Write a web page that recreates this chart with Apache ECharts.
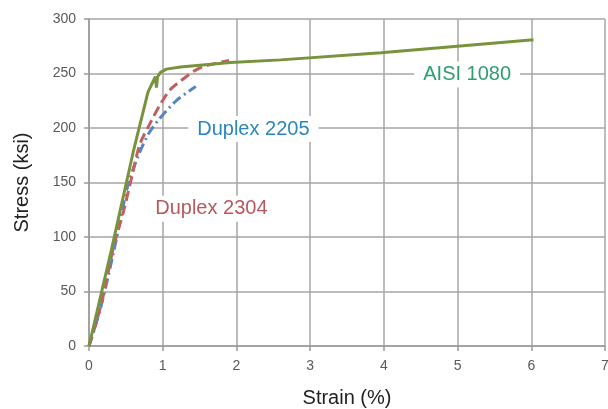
<!DOCTYPE html>
<html>
<head>
<meta charset="utf-8">
<script src="https://cdn.jsdelivr.net/npm/echarts@6/dist/echarts.min.js"></script>
<style>
  html, body { margin: 0; padding: 0; background: #fff; }
  #chart { width: 608px; height: 409px; }
</style>
</head>
<body>
<div id="chart"></div>
<script>
// stress-strain curves, [strain %, stress ksi]
const aisi1080 = [
  [0, 0], [0.3, 87], [0.6, 178], [0.8, 233], [0.9, 247], [0.915, 237], [0.93, 247],
  [0.97, 251], [1.05, 254], [1.24, 256], [1.92, 260], [2.6, 262.5], [3.96, 269], [6.03, 281]
];
const duplex2205 = [
  [0, 0], [0.15, 33], [0.33, 85], [0.53, 148], [0.69, 178], [0.82, 196], [0.95, 208],
  [1.2, 226], [1.45, 238]
];
const duplex2304 = [
  [0, 0], [0.1, 22], [0.2, 48], [0.33, 90], [0.47, 124], [0.58, 155], [0.69, 185],
  [0.85, 207], [0.97, 222], [1.1, 235], [1.24, 243], [1.5, 255], [1.9, 262]
];
const xTicks = [0, 1, 2, 3, 4, 5, 6, 7];
const yTicks = [0, 50, 100, 150, 200, 250, 300];

const fontFamily = "Liberation Sans, Arial, sans-serif";

function note(text, coord, color) {
  return {
    symbol: "none",
    data: [{
      coord: coord,
      symbol: "rect",
      symbolSize: 0,
      label: {
        show: true,
        position: "inside",
        formatter: text,
        color: color,
        backgroundColor: "#fff",
        padding: [3, 9],
        fontFamily: fontFamily,
        fontSize: 20
      }
    }]
  };
}

const chart = echarts.init(document.getElementById("chart"));
chart.setOption({
  animation: false,
  grid: { left: 89, right: 3, top: 19, bottom: 63, outerBoundsMode: "none", containLabel: false },
  xAxis: {
    type: "value",
    min: xTicks[0],
    max: xTicks[xTicks.length - 1],
    interval: 1,
    name: "Strain (%)",
    nameLocation: "middle",
    nameGap: 42,
    nameTextStyle: { color: "#222", fontSize: 20, fontFamily: fontFamily },
    axisLine: { lineStyle: { color: "#9a9a9a", width: 1.5 } },
    axisTick: { show: true, length: 5, lineStyle: { color: "#9a9a9a", width: 1.5 } },
    axisLabel: { color: "#595959", fontSize: 14, margin: 13, fontFamily: fontFamily },
    splitLine: { lineStyle: { color: "#a6a6a6", width: 1.5 } }
  },
  yAxis: {
    type: "value",
    min: yTicks[0],
    max: yTicks[yTicks.length - 1],
    interval: 50,
    name: "Stress (ksi)",
    nameLocation: "middle",
    nameGap: 57,
    nameTextStyle: { color: "#222", fontSize: 20, fontFamily: fontFamily },
    axisLine: { show: true, lineStyle: { color: "#9a9a9a", width: 1.5 } },
    axisTick: { show: true, length: 5, lineStyle: { color: "#9a9a9a", width: 1.5 } },
    axisLabel: { color: "#595959", fontSize: 14, margin: 13, fontFamily: fontFamily },
    splitLine: { lineStyle: { color: "#a6a6a6", width: 1.5 } }
  },
  series: [
    {
      name: "Duplex 2205",
      type: "line",
      data: duplex2205,
      showSymbol: false,
      smooth: 0.3,
      lineStyle: { color: "#5585c4", width: 3, type: [10, 4, 2, 4] },
      markPoint: note("Duplex 2205", [2.23, 199], "#2b87c0")
    },
    {
      name: "Duplex 2304",
      type: "line",
      data: duplex2304,
      showSymbol: false,
      smooth: 0.3,
      lineStyle: { color: "#c0605f", width: 3, type: [10, 5] },
      markPoint: note("Duplex 2304", [1.66, 126], "#b8585c")
    },
    {
      name: "AISI 1080",
      type: "line",
      data: aisi1080,
      showSymbol: false,
      lineStyle: { color: "#77933c", width: 3 },
      markPoint: note("AISI 1080", [5.13, 249], "#2e9e6c")
    }
  ]
});
</script>
</body>
</html>
